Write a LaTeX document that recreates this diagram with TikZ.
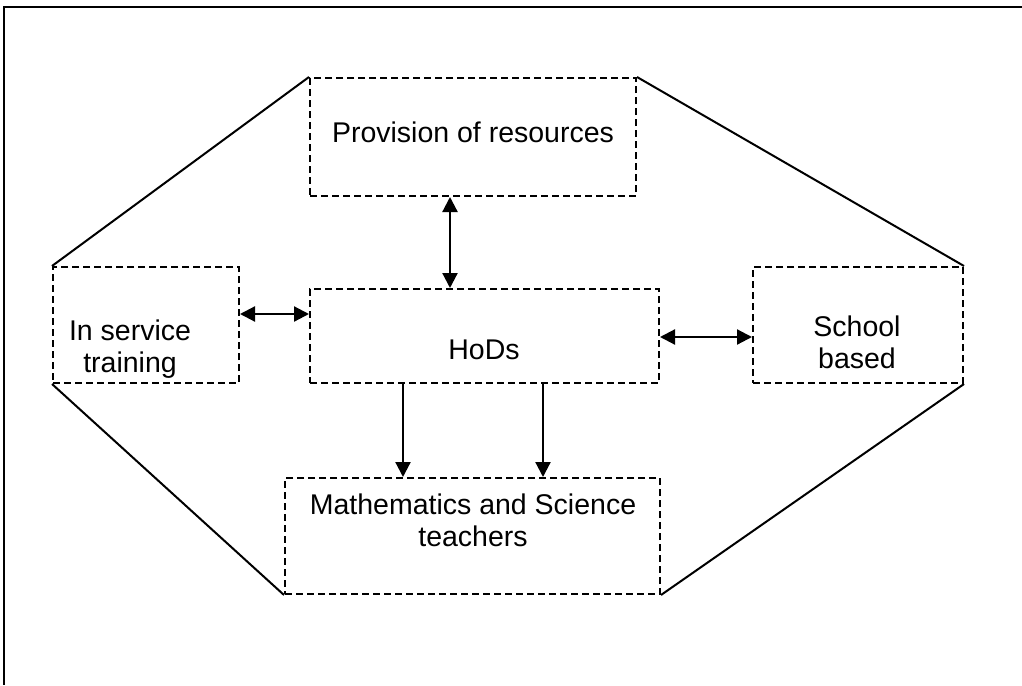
\documentclass[tikz,border=0pt]{standalone}
\usepackage{fontspec}
\setmainfont{Liberation Sans}
\usetikzlibrary{arrows.meta}
\begin{document}
\begin{tikzpicture}[x=1pt,y=-1pt,
  boxstyle/.style={draw, line width=2pt, dash pattern=on 7pt off 4pt, inner sep=0pt},
  txt/.style={font=\fontsize{28.5}{32}\selectfont, align=center, anchor=base, inner sep=0pt},
  solidline/.style={line width=2pt},
  dbl/.style={line width=2.2pt, {Triangle[length=15pt,width=15pt]}-{Triangle[length=15pt,width=15pt]}},
  sgl/.style={line width=2.2pt, -{Triangle[length=15pt,width=15pt]}}
]
\useasboundingbox (0,0) rectangle (1022,685);
% frame
\coordinate (fTR) at (1022,7);
\coordinate (fTL) at (4,7);
\coordinate (fBL) at (4,685);
\draw[line width=2.2pt] (fTR) -- (fTL) -- (fBL);
% boxes
\node[boxstyle, minimum width=326pt, minimum height=118pt] (prov) at (473,137) {};
\node[boxstyle, minimum width=349pt, minimum height=94pt] (hods) at (484.5,336) {};
\node[boxstyle, minimum width=186pt, minimum height=116pt] (inserv) at (146,325) {};
\node[boxstyle, minimum width=210pt, minimum height=116pt] (school) at (858,325) {};
\node[boxstyle, minimum width=375pt, minimum height=116pt] (math) at (472.5,536) {};
% texts (base = baseline of last line)
\node[txt] (provT) at (473,142) {Provision of resources};
\node[txt] (hodsT) at (484,359) {HoDs};
\node[txt] (inservT) at (130,372) {In service\\training};
\node[txt] (schoolT) at (857,368) {School\\based};
\node[txt] (mathT) at (473,546) {Mathematics and Science\\teachers};
% octagon lines
\draw[solidline] (prov.north west) -- (inserv.north west);
\draw[solidline] (prov.north east) -- (school.north east);
\draw[solidline] (inserv.south west) -- (math.south west);
\draw[solidline] (school.south east) -- (math.south east);
% arrows
\draw[dbl] (prov.south -| 450,0) -- (hods.north -| 450,0);
\draw[dbl] (inserv.east |- 0,314) -- (hods.west |- 0,314);
\draw[dbl] (hods.east |- 0,337) -- (school.west |- 0,337);
\draw[sgl] (hods.south -| 403,0) -- (math.north -| 403,0);
\draw[sgl] (hods.south -| 543,0) -- (math.north -| 543,0);
\end{tikzpicture}
\end{document}
